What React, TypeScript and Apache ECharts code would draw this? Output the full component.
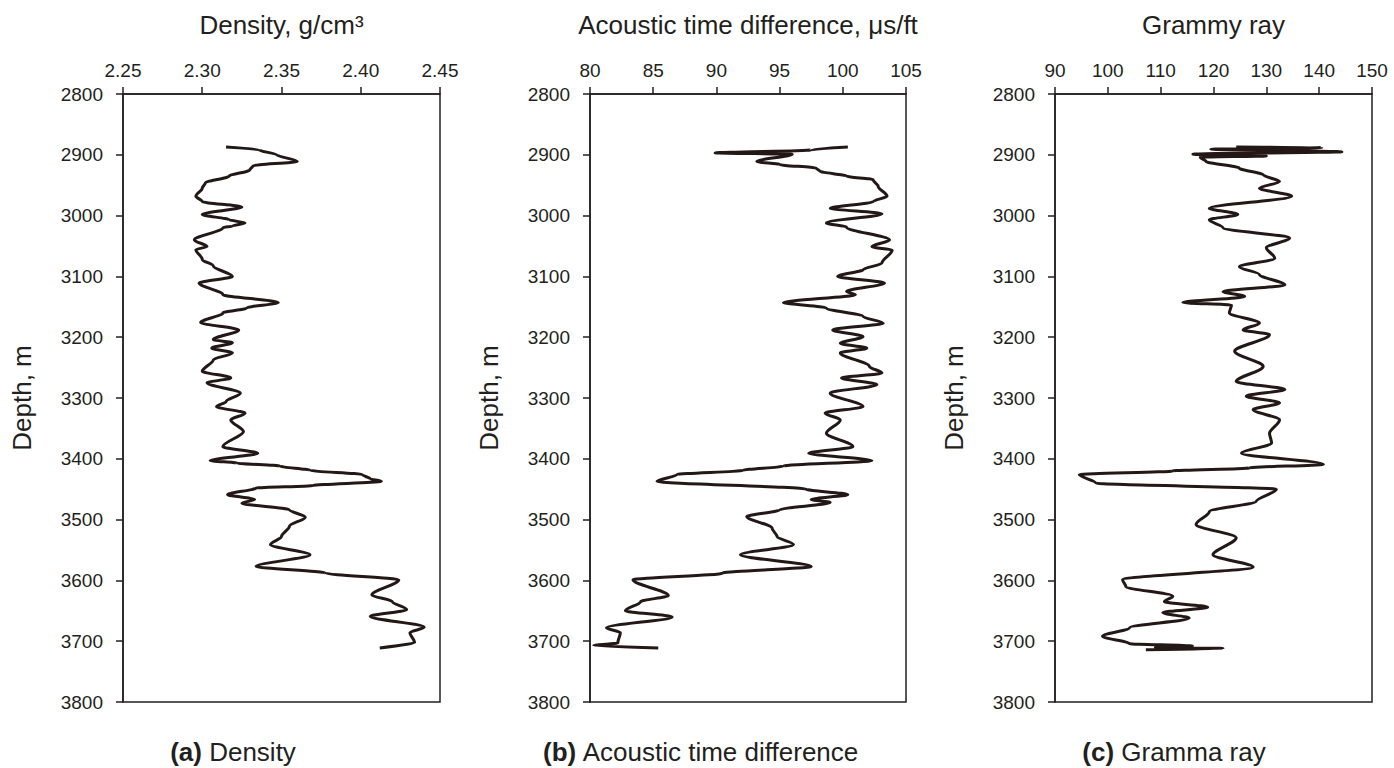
import React, { useEffect, useRef } from "react";
import * as echarts from "echarts";

// Well-log readings: depth (m) paired with the measured value at that depth.
const densityDepth = [
  2887, 2892, 2900, 2911, 2918, 2925, 2935, 2946, 2955, 2968, 2977, 2986, 2998, 3007, 3012, 3017, 3020,
  3040, 3051, 3056, 3072, 3083, 3100, 3111, 3130, 3143, 3152, 3160, 3176, 3188, 3204, 3209, 3218, 3226,
  3237, 3256, 3267, 3275, 3292, 3306, 3314, 3325, 3336, 3355, 3380, 3391, 3403, 3407, 3412, 3419, 3426,
  3433, 3437, 3444, 3448, 3459, 3467, 3473, 3484, 3496, 3511, 3528, 3541, 3558, 3577, 3588, 3599, 3624,
  3635, 3648, 3659, 3677, 3686, 3702, 3711,
];
const densityValue = [
  2.315, 2.336, 2.347, 2.36, 2.332, 2.33, 2.317, 2.302, 2.3, 2.296, 2.3, 2.325, 2.3, 2.317, 2.327, 2.319, 2.313,
  2.295, 2.303, 2.296, 2.3, 2.307, 2.319, 2.298, 2.313, 2.348, 2.328, 2.313, 2.299, 2.323, 2.307, 2.319, 2.306, 2.319,
  2.307, 2.3, 2.318, 2.303, 2.324, 2.315, 2.309, 2.327, 2.318, 2.326, 2.313, 2.335, 2.305, 2.322, 2.349, 2.368, 2.401,
  2.406, 2.413, 2.37, 2.334, 2.316, 2.333, 2.325, 2.355, 2.365, 2.355, 2.35, 2.343, 2.368, 2.334, 2.378, 2.424, 2.407,
  2.42, 2.429, 2.406, 2.44, 2.431, 2.434, 2.412,
];

const acousticDepth = [
  2887, 2892, 2897, 2899, 2911, 2916, 2922, 2927, 2935, 2941, 2952, 2968, 2977, 2988, 2997, 3012, 3019,
  3040, 3051, 3057, 3078, 3089, 3100, 3111, 3125, 3130, 3143, 3152, 3166, 3177, 3188, 3199, 3210, 3218,
  3226, 3248, 3259, 3267, 3278, 3292, 3314, 3325, 3336, 3358, 3380, 3391, 3403, 3412, 3419, 3426, 3437,
  3450, 3459, 3467, 3472, 3484, 3495, 3514, 3528, 3541, 3558, 3577, 3588, 3599, 3625, 3635, 3650, 3660,
  3678, 3686, 3703, 3707, 3711,
];
const acousticValue = [
  100.4, 97.5, 89.9, 96.0, 93.2, 95.0, 97.9, 98.2, 100.3, 102.4, 102.8, 103.5, 102.4, 99.0, 103.1, 98.7, 100.3,
  103.7, 102.3, 103.9, 103.1, 101.6, 99.6, 103.3, 100.3, 101.0, 95.3, 98.7, 101.6, 103.2, 99.2, 101.6, 99.8, 101.9,
  99.8, 102.1, 103.1, 99.9, 102.7, 99.0, 101.6, 98.6, 99.8, 98.7, 100.8, 97.3, 102.3, 95.3, 92.1, 86.9, 85.3,
  97.1, 100.4, 97.5, 99.0, 95.0, 92.4, 94.4, 94.8, 96.1, 91.9, 97.5, 90.5, 83.4, 86.2, 84.0, 82.8, 86.5,
  81.3, 82.4, 82.2, 80.3, 85.4,
];

const gammaDepth = [
  2887, 2888, 2891, 2895, 2899, 2902, 2904, 2911, 2922, 2933, 2944, 2955, 2968, 2988, 2998, 3007, 3020,
  3037, 3053, 3070, 3084, 3097, 3114, 3125, 3133, 3143, 3147, 3160, 3177, 3188, 3196, 3223, 3248, 3273,
  3286, 3297, 3308, 3319, 3336, 3358, 3374, 3391, 3409, 3415, 3420, 3426, 3440, 3450, 3470, 3487, 3508,
  3530, 3558, 3578, 3599, 3610, 3626, 3635, 3644, 3653, 3662, 3678, 3692, 3704, 3708, 3710, 3712, 3714,
];
const gammaValue = [
  124.3, 140.5, 119.5, 144.3, 116.1, 130.0, 117.5, 118.6, 124.9, 129.4, 132.5, 128.7, 134.8, 119.2, 124.6, 119.2, 121.8,
  134.4, 130.0, 131.6, 124.9, 128.7, 133.5, 121.8, 125.9, 114.2, 123.4, 123.0, 128.7, 125.6, 130.6, 124.0, 129.4, 124.3,
  133.5, 126.2, 132.5, 127.5, 132.5, 130.6, 131.0, 125.3, 140.8, 126.8, 112.3, 94.6, 97.7, 131.9, 128.1, 119.2, 116.7,
  124.3, 119.9, 127.5, 102.8, 103.4, 112.3, 110.7, 118.9, 110.4, 115.4, 104.1, 99.0, 104.1, 116.0, 109.0, 121.8, 107.2,
];

const depthTicks = { min: 2800, max: 3800, interval: 100 };

const panels = [
  { title: "Density, g/cm³", caption: "Density", tag: "(a)", min: 2.25, max: 2.45, interval: 0.05, digits: 2 },
  { title: "Acoustic time difference, μs/ft", caption: "Acoustic time difference", tag: "(b)", min: 80, max: 105, interval: 5, digits: 0 },
  { title: "Grammy ray", caption: "Gramma ray", tag: "(c)", min: 90, max: 150, interval: 10, digits: 0 },
];

const seriesDepths = [densityDepth, acousticDepth, gammaDepth];
const seriesValues = [densityValue, acousticValue, gammaValue];

const INK = "#231f20";
const FONT = "'Liberation Sans', Arial, Helvetica, sans-serif";

// Plot frames, in page pixels
const frames = [
  { left: 123, width: 317 },
  { left: 590, width: 316 },
  { left: 1055, width: 317 },
];
const captionCenters = [233, 701, 1174];
const TOP = 94;
const HEIGHT = 608;

export default function App() {
  const ref = useRef<HTMLDivElement>(null);

  useEffect(() => {
    if (!ref.current) return;
    const chart = echarts.init(ref.current, null, { renderer: "svg" });

    const grid = frames.map((f) => ({
      left: f.left,
      top: TOP,
      width: f.width,
      height: HEIGHT,
      show: true,
      borderColor: INK,
      borderWidth: 1.5,
      backgroundColor: "transparent",
    }));

    const xAxis = panels.map((p, i) => ({
      type: "value",
      gridIndex: i,
      position: "top",
      min: p.min,
      max: p.max,
      interval: p.interval,
      name: p.title,
      nameLocation: "middle",
      nameGap: 56,
      nameTextStyle: { fontSize: 26, color: INK, fontFamily: FONT },
      axisLine: { show: true, lineStyle: { color: INK, width: 1.5 } },
      axisTick: { show: true, inside: false, length: 7, lineStyle: { color: INK, width: 1.5 } },
      axisLabel: {
        margin: 14,
        fontSize: 19,
        color: INK,
        fontFamily: FONT,
        formatter: (v: number) => v.toFixed(p.digits),
      },
      splitLine: { show: false },
    }));

    const yAxis = panels.map((_, i) => ({
      type: "value",
      gridIndex: i,
      inverse: true,
      min: depthTicks.min,
      max: depthTicks.max,
      interval: depthTicks.interval,
      name: "Depth, m",
      nameLocation: "middle",
      nameGap: 88,
      nameTextStyle: { fontSize: 26, color: INK, fontFamily: FONT },
      axisLine: { show: true, lineStyle: { color: INK, width: 1.5 } },
      axisTick: { show: true, inside: false, length: 7, lineStyle: { color: INK, width: 1.5 } },
      axisLabel: {
        margin: 20,
        fontSize: 19,
        color: INK,
        fontFamily: FONT,
        formatter: (v: number) => String(v),
      },
      splitLine: { show: false },
    }));

    const series = seriesDepths.map((depths, i) => ({
      type: "line",
      xAxisIndex: i,
      yAxisIndex: i,
      data: depths.map((d, k) => [seriesValues[i][k], d]),
      showSymbol: false,
      smooth: 0.3,
      smoothMonotone: "y",
      lineStyle: { color: "#231815", width: 3 },
    }));

    const graphic = panels.map((p, i) => ({
      type: "text",
      x: captionCenters[i],
      y: 752,
      style: {
        text: `{b|${p.tag}} ${p.caption}`,
        fill: INK,
        font: `26px ${FONT}`,
        align: "center",
        verticalAlign: "middle",
        rich: {
          b: { fontWeight: "bold", fontSize: 26, fontFamily: FONT, fill: INK },
        },
      },
    }));

    chart.setOption({
      animation: false,
      backgroundColor: "#ffffff",
      textStyle: { fontFamily: FONT },
      grid,
      xAxis,
      yAxis,
      series,
      graphic,
    });

    return () => chart.dispose();
  }, []);

  return (
    <div
      ref={ref}
      style={{ position: "fixed", left: 0, top: 0, width: 1394, height: 768, background: "#fff" }}
    />
  );
}
